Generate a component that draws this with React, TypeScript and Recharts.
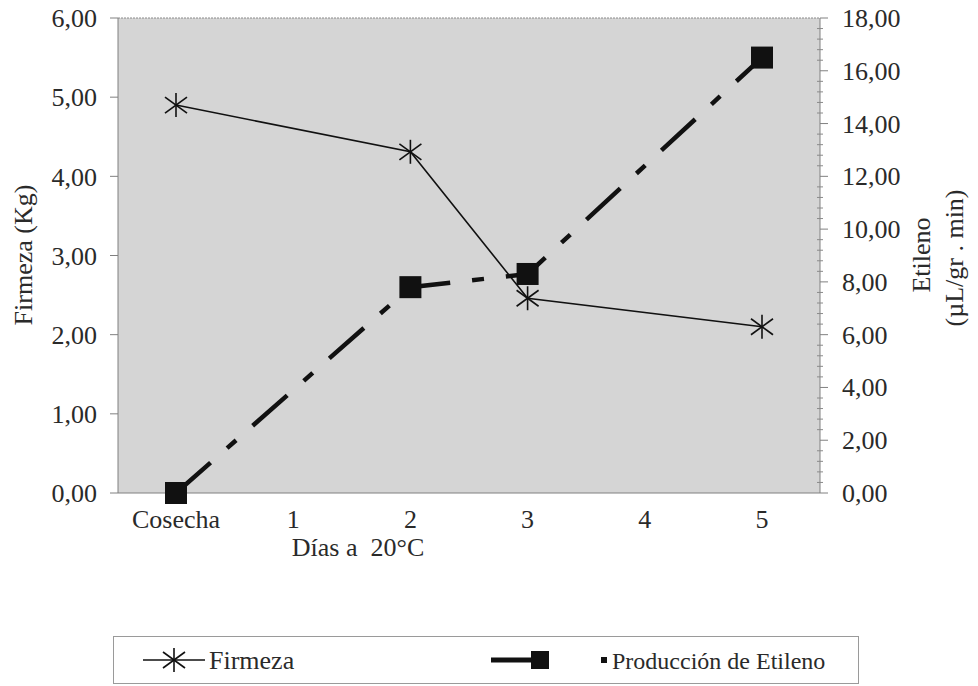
import { LineChart, Line, XAxis, YAxis, CartesianGrid, ReferenceLine } from "recharts"

// categories on the x axis (days at 20°C)
const categories = ["Cosecha", "1", "2", "3", "4", "5"]
// firmness, kg (left axis)
const firmeza = [4.9, null, 4.31, 2.46, null, 2.1]
// ethylene production, µL/gr.min (right axis)
const etileno = [0, null, 7.8, 8.3, null, 16.5]

const leftTicks = [0, 1, 2, 3, 4, 5, 6]
const rightTicks = [0, 2, 4, 6, 8, 10, 12, 14, 16, 18]
// right axis also carries minor ticks every 0.4
const rightAllTicks = Array.from({ length: 46 }, (_, i) => +(i * 0.4).toFixed(1))

const data = categories.map((name, i) => ({
  name,
  firmeza: firmeza[i],
  etileno: etileno[i],
}))

const FONT = "'Times New Roman', 'Liberation Serif', Tinos, 'DejaVu Serif', serif"
const fmt = (v: number) => v.toFixed(2).replace(".", ",")

const Asterisk = (props: any) => {
  const { cx, cy, value, index } = props
  if (cx == null || cy == null || value == null) return <g key={`a-${index}`} />
  return (
    <g key={`a-${index}`} stroke="#111" strokeWidth={1.6}>
      <line x1={cx} y1={cy - 12} x2={cx} y2={cy + 12} />
      <line x1={cx - 11} y1={cy - 8} x2={cx + 11} y2={cy + 8} />
      <line x1={cx - 11} y1={cy + 8} x2={cx + 11} y2={cy - 8} />
    </g>
  )
}

const Square = (props: any) => {
  const { cx, cy, value, index } = props
  if (cx == null || cy == null || value == null) return <g key={`s-${index}`} />
  return <rect key={`s-${index}`} x={cx - 11} y={cy - 11} width={22} height={22} fill="#111" />
}

const RightTick = (props: any) => {
  const { x, y, payload } = props
  const v = payload.value
  const major = rightTicks.includes(v)
  return (
    <g>
      {major ? (
        <line x1={x} y1={y} x2={x + 8} y2={y} stroke="#808080" />
      ) : (
        <line x1={x - 3} y1={y} x2={x + 3} y2={y} stroke="#8a8a8a" />
      )}
      {major && (
        <text x={x + 22} y={y} dy={9} fontFamily={FONT} fontSize={26} fill="#2a2a2a" textAnchor="start">
          {fmt(v)}
        </text>
      )}
    </g>
  )
}

export default function App() {
  const tickStyle = { fontFamily: FONT, fontSize: 26, fill: "#2a2a2a" }
  return (
    <div style={{ position: "absolute", left: 0, top: 0, width: 978, height: 686, background: "#fff", fontFamily: FONT }}>
      <LineChart width={978} height={686} data={data} margin={{ top: 18, right: 0, bottom: 153, left: 0 }}>
        <CartesianGrid fill="#d5d5d5" stroke="none" />
        <XAxis
          dataKey="name"
          height={40}
          padding={{ left: 58, right: 58 }}
          tickLine={false}
          tickSize={0}
          tickMargin={17}
          axisLine={{ stroke: "#808080" }}
          tick={tickStyle}
          interval={0}
        />
        <YAxis
          yAxisId="left"
          width={118}
          domain={[0, 6]}
          ticks={leftTicks}
          tickFormatter={fmt}
          tickSize={8}
          tickMargin={13}
          tick={tickStyle}
          axisLine={{ stroke: "#808080" }}
          tickLine={{ stroke: "#808080" }}
        />
        <YAxis
          yAxisId="right"
          orientation="right"
          width={158}
          domain={[0, 18]}
          ticks={rightAllTicks}
          interval={0}
          tickSize={0}
          tickMargin={0}
          tick={RightTick}
          axisLine={{ stroke: "#808080" }}
          tickLine={false}
        />
        <ReferenceLine yAxisId="left" y={6} stroke="#8a8a8a" strokeDasharray="2 1" />
        <Line
          yAxisId="right"
          dataKey="etileno"
          stroke="#111"
          strokeWidth={4.5}
          strokeDasharray="46 22 12 22"
          connectNulls
          dot={Square}
          activeDot={false}
          isAnimationActive={false}
        />
        <Line
          yAxisId="left"
          dataKey="firmeza"
          stroke="#111"
          strokeWidth={1.6}
          connectNulls
          dot={Asterisk}
          activeDot={false}
          isAnimationActive={false}
        />
      </LineChart>
      <svg
        width={978}
        height={686}
        style={{ position: "absolute", left: 0, top: 0, pointerEvents: "none" }}
        fontFamily={FONT}
        fontSize={26}
        fill="#2a2a2a"
      >
        <text transform="translate(32,255) rotate(-90)" textAnchor="middle">Firmeza (Kg)</text>
        <text transform="translate(930,255) rotate(-90)" textAnchor="middle">Etileno</text>
        <text transform="translate(963,258) rotate(-90)" textAnchor="middle">(µL/gr . min)</text>
        <text x={358} y={556} textAnchor="middle" style={{ whiteSpace: "pre" }}>Días a  20°C</text>
        <rect x={113.5} y={636.5} width={745} height={47} fill="none" stroke="#9a9a9a" />
        <line x1={143} y1={660} x2={205} y2={660} stroke="#111" strokeWidth={1.6} />
        <Asterisk cx={174} cy={660} value={1} index={99} />
        <text x={209} y={669}>Firmeza</text>
        <line x1={491} y1={660} x2={533} y2={660} stroke="#111" strokeWidth={5} />
        <rect x={531} y={651} width={18} height={18} fill="#111" />
        <rect x={601} y={657} width={6} height={6} fill="#111" />
        <text x={612} y={669} fontSize={24}>Producción de Etileno</text>
      </svg>
    </div>
  )
}
